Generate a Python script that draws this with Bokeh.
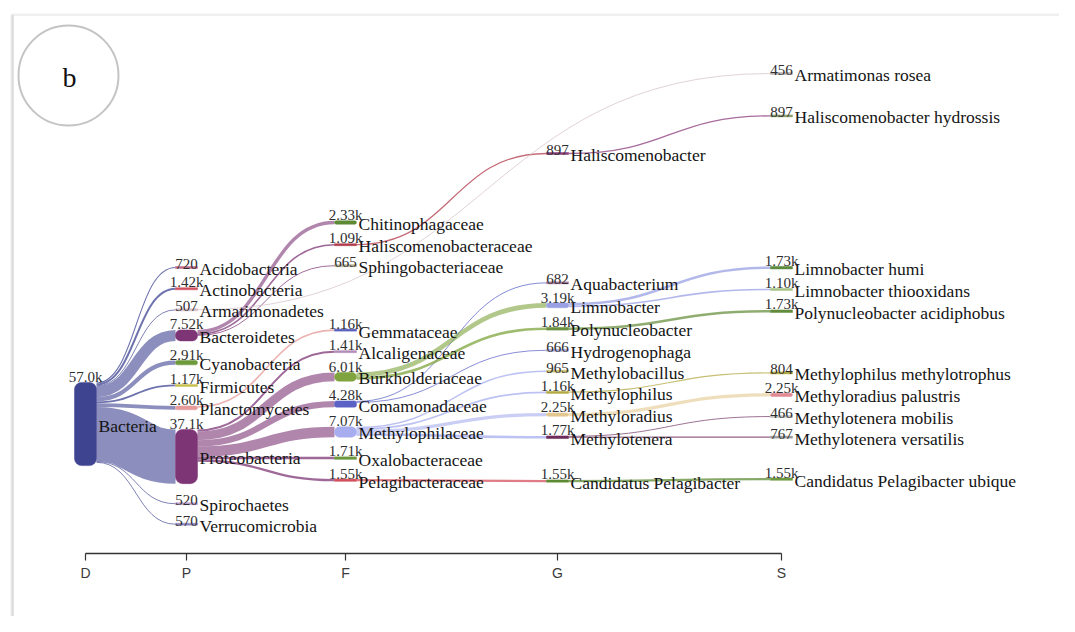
from bokeh.plotting import figure
from bokeh.models import Range1d, FixedTicker, ColumnDataSource
from bokeh.embed import file_html
from bokeh.resources import INLINE
from bokeh.core.properties import value as pv

# ---------------- data ----------------
levels = ["D", "P", "F", "G", "S"]

domain_names = ["Bacteria"]
domain_values = [57000]

phylum_names = ["Acidobacteria", "Actinobacteria", "Armatimonadetes", "Bacteroidetes",
                "Cyanobacteria", "Firmicutes", "Planctomycetes", "Proteobacteria",
                "Spirochaetes", "Verrucomicrobia"]
phylum_values = [720, 1420, 507, 7520, 2910, 1170, 2600, 37100, 520, 570]
phylum_parents = ["Bacteria"] * 10

family_names = ["Chitinophagaceae", "Haliscomenobacteraceae", "Sphingobacteriaceae",
                "Gemmataceae", "Alcaligenaceae", "Burkholderiaceae", "Comamonadaceae",
                "Methylophilaceae", "Oxalobacteraceae", "Pelagibacteraceae"]
family_values = [2330, 1090, 665, 1160, 1410, 6010, 4280, 7070, 1710, 1550]
family_parents = ["Bacteroidetes", "Bacteroidetes", "Bacteroidetes", "Planctomycetes",
                  "Proteobacteria", "Proteobacteria", "Proteobacteria", "Proteobacteria",
                  "Proteobacteria", "Proteobacteria"]

genus_names = ["Haliscomenobacter", "Aquabacterium", "Limnobacter", "Polynucleobacter",
               "Hydrogenophaga", "Methylobacillus", "Methylophilus", "Methyloradius",
               "Methylotenera", "Candidatus Pelagibacter"]
genus_values = [897, 682, 3190, 1840, 666, 965, 1160, 2250, 1770, 1550]
genus_parents = ["Haliscomenobacteraceae", "Comamonadaceae", "Burkholderiaceae",
                 "Burkholderiaceae", "Comamonadaceae", "Methylophilaceae",
                 "Methylophilaceae", "Methylophilaceae", "Methylophilaceae",
                 "Pelagibacteraceae"]

species_names = ["Armatimonas rosea", "Haliscomenobacter hydrossis", "Limnobacter humi",
                 "Limnobacter thiooxidans", "Polynucleobacter acidiphobus",
                 "Methylophilus methylotrophus", "Methyloradius palustris",
                 "Methylotenera mobilis", "Methylotenera versatilis",
                 "Candidatus Pelagibacter ubique"]
species_values = [456, 897, 1730, 1100, 1730, 804, 2250, 466, 767, 1550]
species_parents = ["Armatimonadetes", "Haliscomenobacter", "Limnobacter", "Limnobacter",
                   "Polynucleobacter", "Methylophilus", "Methyloradius", "Methylotenera",
                   "Methylotenera", "Candidatus Pelagibacter"]

# ---------------- layout / style ----------------
col_x = {"D": 85, "P": 186, "F": 345, "G": 557, "S": 781}
col_start = {"D": 423.5, "P": 267, "F": 222, "G": 153, "S": 73}
skip_rows = {"Gemmataceae": 2, "Aquabacterium": 5, "Candidatus Pelagibacter": 1,
             "Haliscomenobacter hydrossis": 1, "Limnobacter humi": 6,
             "Methylophilus methylotrophus": 1.85, "Candidatus Pelagibacter ubique": 0.95}
PX_PER_UNIT = 1.46 / 1000.0
GAP = 19.7
SLOT = 21.7
NODE_W = 22

colors = {
    "Bacteria": "#3f4491",
    "Acidobacteria": "#c06a8a", "Actinobacteria": "#d2505e", "Armatimonadetes": "#d3bcc6",
    "Bacteroidetes": "#7d3576", "Cyanobacteria": "#6e9a3c", "Firmicutes": "#c9bf4f",
    "Planctomycetes": "#e69a9a", "Proteobacteria": "#7d3576", "Spirochaetes": "#b99ccc",
    "Verrucomicrobia": "#8e86c0",
    "Chitinophagaceae": "#5d8a34", "Haliscomenobacteraceae": "#b23a4a",
    "Sphingobacteriaceae": "#b5ae96", "Gemmataceae": "#5a60bd", "Alcaligenaceae": "#b48cb8",
    "Burkholderiaceae": "#7fa43e", "Comamonadaceae": "#5b62c6", "Methylophilaceae": "#a7adef",
    "Oxalobacteraceae": "#6c9a40", "Pelagibacteraceae": "#d4505c",
    "Haliscomenobacter": "#8a3a7c", "Aquabacterium": "#a87a9c", "Limnobacter": "#9aa0e4",
    "Polynucleobacter": "#6a9240", "Hydrogenophaga": "#a8a8d8", "Methylobacillus": "#c8c070",
    "Methylophilus": "#b4aa44", "Methyloradius": "#e2c890", "Methylotenera": "#6d2c5e",
    "Candidatus Pelagibacter": "#5e8c34",
    "Armatimonas rosea": "#b8b0b0", "Haliscomenobacter hydrossis": "#8fa070",
    "Limnobacter humi": "#5b8a3a", "Limnobacter thiooxidans": "#a6c486",
    "Polynucleobacter acidiphobus": "#628c3c", "Methylophilus methylotrophus": "#b0a640",
    "Methyloradius palustris": "#e08a94", "Methylotenera mobilis": "#c0c0c0",
    "Methylotenera versatilis": "#9a9a9a", "Candidatus Pelagibacter ubique": "#6b9a40",
}

columns = [
    ("D", domain_names, domain_values, [None]),
    ("P", phylum_names, phylum_values, phylum_parents),
    ("F", family_names, family_values, family_parents),
    ("G", genus_names, genus_values, genus_parents),
    ("S", species_names, species_values, species_parents),
]

def fmt(v):
    if v >= 1000:
        return f"{v/1000:#.3g}k"
    return str(v)

nodes = {}
order = []
for lvl, names, vals, parents in columns:
    prev = None
    for n, v, par in zip(names, vals, parents):
        h = v * PX_PER_UNIT
        if prev is None:
            cy = col_start[lvl]
        else:
            cy = prev["cy"] + prev["h"] / 2 + GAP + h / 2 + skip_rows.get(n, 0) * SLOT
        node = dict(name=n, lvl=lvl, value=v, parent=par, h=h, cy=cy, cx=col_x[lvl])
        nodes[n] = node
        order.append(n)
        prev = node

# links
offsets = {n: 0.0 for n in order}
lk = dict(x0=[], y0=[], x1=[], y1=[], cx0=[], cy0=[], cx1=[], cy1=[], w=[], c=[], a=[])
for n in order:
    nd = nodes[n]
    if nd["parent"] is None:
        continue
    par = nodes[nd["parent"]]
    ptop = par["cy"] - par["h"] / 2
    y0 = ptop + offsets[par["name"]] + nd["h"] / 2
    offsets[par["name"]] += nd["h"]
    x0 = par["cx"] + NODE_W / 2
    x1 = nd["cx"] - NODE_W / 2
    xm = (x0 + x1) / 2
    lk["x0"].append(x0); lk["y0"].append(y0)
    lk["x1"].append(x1); lk["y1"].append(nd["cy"])
    lk["cx0"].append(xm); lk["cy0"].append(y0)
    lk["cx1"].append(xm); lk["cy1"].append(nd["cy"])
    lk["w"].append(max(nd["h"], 0.9))
    lk["c"].append(colors[par["name"]])
    lk["a"].append(0.6 if nd["h"] >= 3 else 0.75)

# ---------------- figure ----------------
W, H = 1059, 616
p = figure(width=W, height=H, x_range=Range1d(0, W), y_range=Range1d(H, 0),
           output_backend="svg", toolbar_location=None, min_border=0)
p.outline_line_color = None
p.grid.visible = False
p.yaxis.visible = False
p.background_fill_color = "white"
p.border_fill_color = "white"

ticks = [col_x[l] for l in levels]
p.xaxis.fixed_location = 553
p.xaxis.ticker = FixedTicker(ticks=ticks)
p.xaxis.major_label_overrides = {t: l for t, l in zip(ticks, levels)}
p.xaxis.bounds = (ticks[0], ticks[-1])
p.xaxis.axis_line_color = "#333333"
p.xaxis.axis_line_width = 1.5
p.xaxis.major_tick_line_color = "#333333"
p.xaxis.major_tick_line_width = 1.2
p.xaxis.major_tick_in = 0
p.xaxis.major_tick_out = 7
p.xaxis.minor_tick_line_color = None
p.xaxis.major_label_standoff = 4
p.xaxis.major_label_text_font = "Liberation Sans"
p.xaxis.major_label_text_font_size = "14px"
p.xaxis.major_label_text_color = "#3a3a3a"

# card frame
p.segment(x0=[10.5, 11.5, 12.5], y0=[14, 14, 14], x1=[10.5, 11.5, 12.5], y1=[640, 640, 640],
          line_color=["#ededed", "#d9d9d9", "#c8c8c8"], line_width=1)
p.segment(x0=[12, 12], y0=[13.5, 14.5], x1=[1080, 1080], y1=[13.5, 14.5],
          line_color=["#f3f3f3", "#e2e2e2"], line_width=1)

# badge
p.scatter(x=[68], y=[75], size=100, marker="circle", fill_color="white",
          line_color="#c4c4c4", line_width=2)
p.text(x=[69], y=[77], text=["b"], text_align="center", text_baseline="middle",
       text_font=pv("Liberation Serif"), text_font_size="28px", text_color="#111111")

# links
p.bezier(x0="x0", y0="y0", x1="x1", y1="y1", cx0="cx0", cy0="cy0", cx1="cx1", cy1="cy1",
         line_width="w", line_color="c", line_alpha="a", source=ColumnDataSource(lk))

# nodes
groups = [(30, 1e9, 7), (8, 30, 5), (3, 8, 2), (0, 3, 0)]
for lo, hi, rad in groups:
    sel = [nodes[n] for n in order if lo <= nodes[n]["h"] < hi]
    if not sel:
        continue
    src = ColumnDataSource(dict(
        left=[d["cx"] - NODE_W / 2 for d in sel],
        right=[d["cx"] + NODE_W / 2 for d in sel],
        top=[d["cy"] - max(d["h"], 2.0) / 2 for d in sel],
        bottom=[d["cy"] + max(d["h"], 2.0) / 2 for d in sel],
        c=[colors[d["name"]] for d in sel],
    ))
    p.quad(left="left", right="right", top="top", bottom="bottom", fill_color="c",
           line_color="c", line_alpha=0.5, line_width=1, border_radius=rad, source=src)

# labels
name_src = ColumnDataSource(dict(
    x=[nodes[n]["cx"] + 13 for n in order],
    y=[nodes[n]["cy"] + 1.5 for n in order],
    t=order,
))
p.text(x="x", y="y", text="t", source=name_src, text_align="left", text_baseline="middle",
       text_font=pv("Liberation Serif"), text_font_size="17.5px", text_color="#141414")

val_src = ColumnDataSource(dict(
    x=[nodes[n]["cx"] for n in order],
    y=[nodes[n]["cy"] - max(nodes[n]["h"], 2.0) / 2 + 2.5 for n in order],
    t=[fmt(nodes[n]["value"]) for n in order],
))
p.text(x="x", y="y", text="t", source=val_src, text_align="center",
       text_baseline="bottom", text_font=pv("Liberation Serif"),
       text_font_size="15px", text_color="#2e2e2e")

open("out.html", "w").write(file_html(p, INLINE))
